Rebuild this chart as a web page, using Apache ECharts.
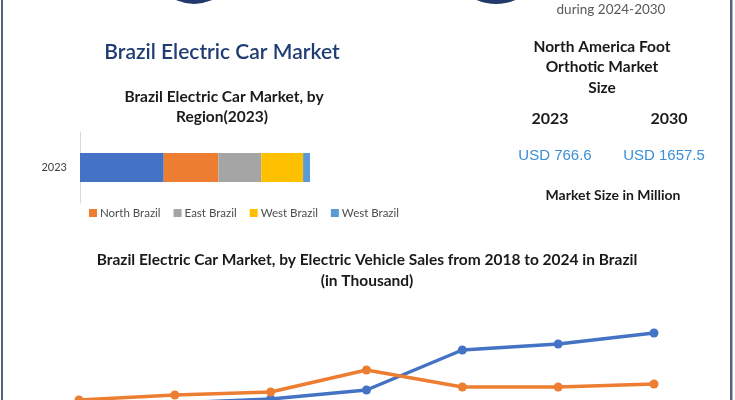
<!DOCTYPE html>
<html>
<head>
<meta charset="utf-8">
<script src="https://cdn.jsdelivr.net/npm/echarts@6/dist/echarts.min.js"></script>
<style>
html,body{margin:0;padding:0;background:#fff;}
#c{width:735px;height:400px;}
</style>
</head>
<body>
<div id="c"></div>
<script>
// ---- data ----
var regionYears = ['2023'];
var regionNames = ['South Brazil', 'North Brazil', 'East Brazil', 'West Brazil', 'West Brazil '];
var regionShares = [36.4, 23.8, 18.6, 18.2, 3.0];
var legendNames = ['North Brazil', 'East Brazil', 'West Brazil', 'West Brazil '];

var salesYears = ['2018', '2019', '2020', '2021', '2022', '2023', '2024'];
var salesSeriesA = [12, 17, 21, 30, 70, 76, 87];
var salesSeriesB = [20, 25, 28, 50, 33, 33, 36];

var marketYears = ['2023', '2030'];
var marketValues = ['USD 766.6', 'USD 1657.5'];

// ---- styles ----
var regionColors = ['#4472c4', '#ed7d31', '#a5a5a5', '#ffc000', '#5b9bd5'];
var F = 'Lato, "Open Sans", sans-serif';

var chart = echarts.init(document.getElementById('c'), null, {renderer: 'canvas'});

var barSeries = regionNames.map(function (n, i) {
  return {
    name: n, type: 'bar', stack: 'r', xAxisIndex: 0, yAxisIndex: 0,
    barWidth: 29, data: [regionShares[i]],
    itemStyle: {color: regionColors[i]}, silent: true
  };
});

function txt(x, y, s, opt) {
  return {
    type: 'text', x: x, y: y, silent: true,
    style: Object.assign({text: s, textAlign: 'center', textVerticalAlign: 'middle',
      font: 'bold 15px ' + F, fill: '#1a1a1a'}, opt || {})
  };
}

var option = {
  backgroundColor: '#ffffff',
  animation: false,
  grid: [
    {left: 80, top: 132, width: 230, height: 71},
    {left: 79, right: 81, top: 320, bottom: 0}
  ],
  xAxis: [
    {gridIndex: 0, type: 'value', min: 0, max: 100, show: false},
    {gridIndex: 1, type: 'category', data: salesYears, boundaryGap: false, show: false}
  ],
  yAxis: [
    {gridIndex: 0, type: 'category', data: regionYears,
      axisLine: {show: true, lineStyle: {color: '#d9d9d9', width: 1}},
      axisTick: {show: false},
      axisLabel: {margin: 13, fontSize: 11, color: '#404040', fontFamily: F}},
    {gridIndex: 1, type: 'value', min: 20, max: 100, show: false}
  ],
  legend: {
    data: legendNames, left: 84, top: 202, itemWidth: 8, itemHeight: 8, itemGap: 13,
    icon: 'rect', selectedMode: false,
    formatter: function (n) { return n.trim(); },
    textStyle: {fontSize: 11.5, color: '#4d4d4d', fontFamily: F, padding: [0, 0, 0, -2]}
  },
  series: barSeries.concat([
    {name: 'Series1', type: 'line', xAxisIndex: 1, yAxisIndex: 1, data: salesSeriesA,
      symbol: 'circle', symbolSize: 9, lineStyle: {color: '#4472c4', width: 3.5},
      itemStyle: {color: '#4472c4'}, silent: true},
    {name: 'Series2', type: 'line', xAxisIndex: 1, yAxisIndex: 1, data: salesSeriesB,
      symbol: 'circle', symbolSize: 9, lineStyle: {color: '#ed7d31', width: 3.5},
      itemStyle: {color: '#ed7d31'}, silent: true}
  ]),
  graphic: [
    {type: 'circle', shape: {cx: 194, cy: -38, r: 42}, style: {fill: '#213a6b'}, silent: true},
    {type: 'circle', shape: {cx: 496, cy: -45, r: 49}, style: {fill: '#213a6b'}, silent: true},
    {type: 'rect', shape: {x: 1, y: 0, width: 2, height: 400}, style: {fill: '#56627a'}, silent: true},
    {type: 'rect', shape: {x: 730, y: 0, width: 2, height: 400}, style: {fill: '#56627a'}, silent: true},
    {type: 'rect', shape: {x: 732, y: 0, width: 1, height: 400}, style: {fill: '#a9b8d0'}, silent: true},
    txt(611, 10, 'during 2024-2030', {font: '13.5px ' + F, fill: '#595959'}),
    txt(222, 52, 'Brazil Electric Car Market', {font: '600 21px ' + F, fill: '#1f3c74'}),
    txt(224, 97, 'Brazil Electric Car Market, by', {font: 'bold 15.5px ' + F}),
    txt(222, 117, 'Region(2023)', {font: 'bold 15.5px ' + F}),
    txt(602, 47, 'North America Foot', {font: 'bold 15.5px ' + F}),
    txt(602, 67, 'Orthotic Market', {font: 'bold 15.5px ' + F}),
    txt(602, 88, 'Size', {font: 'bold 15.5px ' + F}),
    txt(550, 119, marketYears[0], {font: 'bold 16px ' + F}),
    txt(669, 119, marketYears[1], {font: 'bold 16px ' + F}),
    txt(555, 156, marketValues[0], {font: '15px "Liberation Sans", Arial, sans-serif', fill: '#3a8fd6'}),
    txt(664, 156, marketValues[1], {font: '15px "Liberation Sans", Arial, sans-serif', fill: '#3a8fd6'}),
    txt(613, 195, 'Market Size in Million', {font: 'bold 14px ' + F}),
    txt(367, 260, 'Brazil Electric Car Market, by Electric Vehicle Sales from 2018 to 2024 in Brazil', {font: 'bold 15.5px ' + F}),
    txt(367, 281, '(in Thousand)', {font: 'bold 15.5px ' + F})
  ]
};
chart.setOption(option);
</script>
</body>
</html>
